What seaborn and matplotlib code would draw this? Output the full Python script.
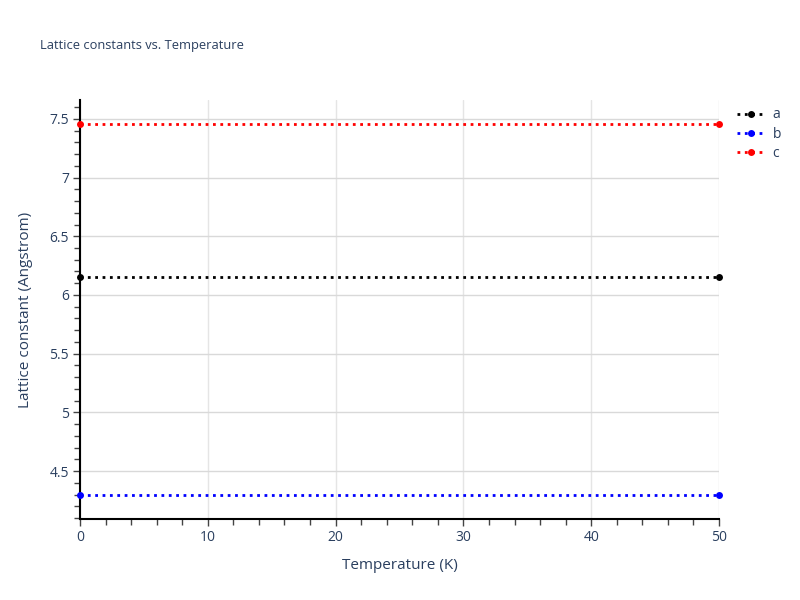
import pandas as pd
import seaborn as sns
import matplotlib.pyplot as plt
from matplotlib.ticker import MultipleLocator

# Lattice constant values
temperature = [0, 50]
lattice_a = [6.153, 6.153]
lattice_b = [4.297, 4.297]
lattice_c = [7.453, 7.453]
series_names = ['a', 'b', 'c']
series_colors = ['black', 'blue', 'red']

df = pd.DataFrame({
    'Temperature': temperature * 3,
    'Lattice': lattice_a + lattice_b + lattice_c,
    'Axis': [n for n in series_names for _ in temperature],
})

sns.set_theme(style='white')
plt.rcParams['font.family'] = ['Open Sans', 'DejaVu Sans']
text_color = '#2a3f5f'

fig = plt.figure(figsize=(8, 6), dpi=100)
ax = fig.add_axes([80 / 800, 1 - 519 / 600, 639 / 800, 419 / 600])

sns.lineplot(data=df, x='Temperature', y='Lattice', hue='Axis',
             palette=dict(zip(series_names, series_colors)),
             linestyle=':', linewidth=2, marker='o', markersize=5,
             markeredgewidth=0, ax=ax, clip_on=False, zorder=3)

ax.set_xlim(0, 50)
ax.set_ylim(4.093, 7.66)
ax.xaxis.set_major_locator(MultipleLocator(10))
ax.xaxis.set_minor_locator(MultipleLocator(2))
ax.yaxis.set_major_locator(MultipleLocator(0.5))
ax.yaxis.set_minor_locator(MultipleLocator(0.1))
ax.yaxis.set_major_formatter(plt.FuncFormatter(lambda v, p: f'{v:g}'))

ax.grid(True, which='major', axis='y', color='#d9d9d9', linewidth=1)
ax.grid(True, which='major', axis='x', color='#e5e5e5', linewidth=1)
ax.set_axisbelow(True)

for side in ['top', 'right']:
    ax.spines[side].set_visible(False)
for side in ['left', 'bottom']:
    ax.spines[side].set_color('black')
    ax.spines[side].set_linewidth(1.5)

ax.tick_params(axis='both', which='major', direction='out', length=5,
               width=1, color='#444444', labelsize=10, labelcolor=text_color, pad=3)
ax.tick_params(axis='both', which='minor', direction='out', length=4,
               width=1, color='#444444')
ax.tick_params(axis='x', which='both', bottom=True)
ax.tick_params(axis='y', which='both', left=True)

ax.set_xlabel('Temperature (K)', fontsize=11, color=text_color, labelpad=9)
ax.set_ylabel('Lattice constant (Angstrom)', fontsize=11, color=text_color, labelpad=12)

fig.text(40 / 800, 1 - 45 / 600, 'Lattice constants vs. Temperature',
         fontsize=9.3, color=text_color, va='center', ha='left')

leg = ax.legend(loc='upper left', bbox_to_anchor=(1.008, 1.012), frameon=False,
                fontsize=10, handlelength=2.0, handletextpad=0.6,
                labelcolor=text_color, borderaxespad=0.5, labelspacing=0.3)
for h in leg.get_lines():
    h.set_linestyle(':')
    h.set_linewidth(2)

fig.savefig('out.png', dpi=100)
